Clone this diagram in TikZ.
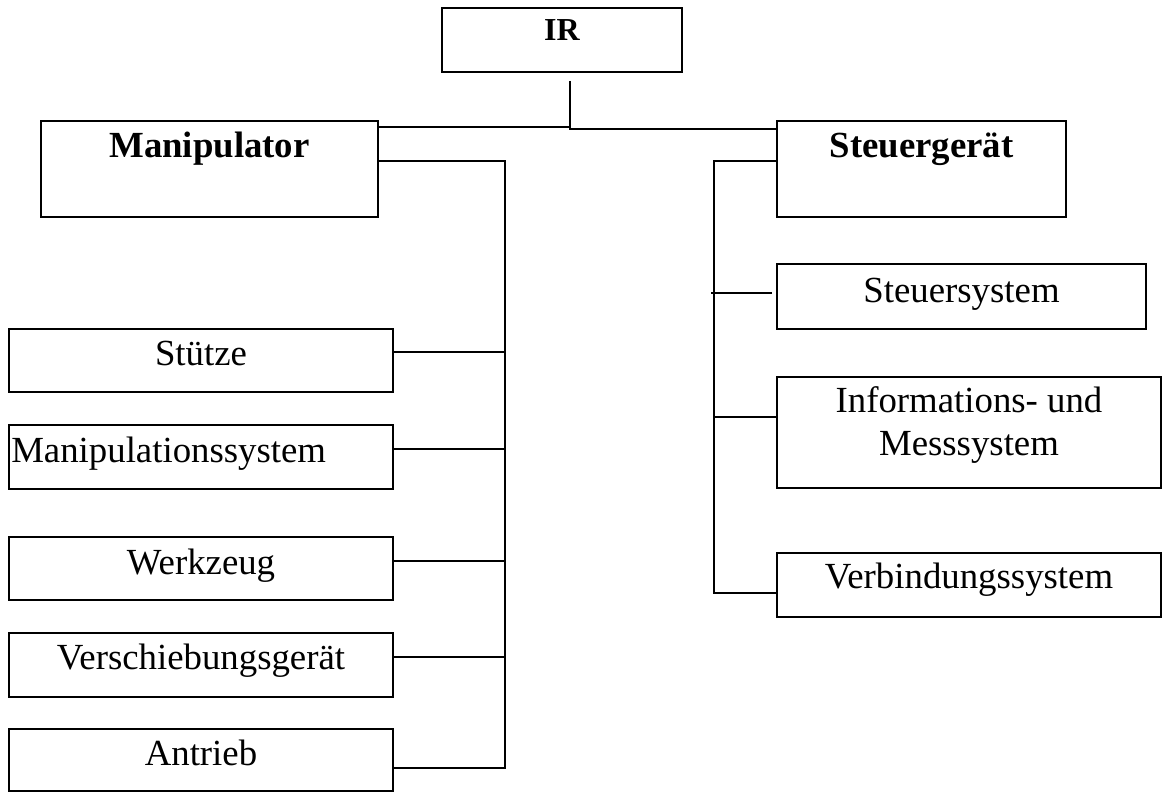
\documentclass[tikz,border=0pt]{standalone}
\usepackage{fontspec}
\setmainfont{Liberation Serif}
\usetikzlibrary{fit,calc}
\begin{document}
\begin{tikzpicture}[x=0.75pt,y=-0.75pt,
  box/.style={draw, line width=1.5pt, rectangle, inner sep=0pt, outer sep=0pt},
  lbl/.style={inner sep=0pt, anchor=base, font=\fontsize{27.6}{32.25}\selectfont},
  blbl/.style={inner sep=0pt, anchor=base, font=\fontsize{27.6}{33}\selectfont\bfseries},
  conn/.style={line width=1.5pt}]
\useasboundingbox (0,0) rectangle (1164,792);
% boxes
\node[box, fit={(442,8) (682,72)}] (ir) {};
\node[box, fit={(41,121) (378,217)}] (manip) {};
\node[box, fit={(777,121) (1066,217)}] (steu) {};
\node[box, fit={(777,264) (1146,329)}] (ssys) {};
\node[box, fit={(777,377) (1161,488)}] (info) {};
\node[box, fit={(777,553) (1161,617)}] (verb) {};
\node[box, fit={(9,329) (393,392)}] (stuetze) {};
\node[box, fit={(9,425) (393,489)}] (msys) {};
\node[box, fit={(9,537) (393,600)}] (werk) {};
\node[box, fit={(9,633) (393,697)}] (versch) {};
\node[box, fit={(9,729) (393,791)}] (antr) {};
% texts
\node[inner sep=0pt, anchor=base, font=\fontsize{24}{28}\selectfont\bfseries] (tir) at (562,41) {IR};
\node[blbl] (tman) at (209.5,157) {Manipulator};
\node[blbl] (tsteu) at (921.5,157) {Steuergerät};
\node[lbl] (tss) at (961.5,302) {Steuersystem};
\node[lbl, align=center] (tinfo) at (969,455) {Informations- und\\Messsystem};
\node[lbl] (tverb) at (969,588) {Verbindungssystem};
\node[lbl] (tst) at (201,365) {Stütze};
\node[lbl, anchor=base west] (tms) at (11,462) {Manipulationssystem};
\node[lbl] (twz) at (201,574) {Werkzeug};
\node[lbl] (tvs) at (201,669) {Verschiebungsgerät};
\node[lbl] (tan) at (201,765) {Antrieb};
% connectors
\coordinate (irtap) at (570,81);
\coordinate (mbus) at (505,161);
\coordinate (sbus) at (713.5,161);
\draw[conn] (irtap) |- ($(manip.north east)+(0,6)$);
\draw[conn] ($(irtap)+(0,46)$) |- ($(steu.north west)+(0,8)$);
\draw[conn] (manip.east |- mbus) -| ($(mbus |- antr.east)+(0,8)$) -- ($(antr.east)+(0,8)$);
\foreach \n/\d in {stuetze/-8.5, msys/-8, werk/-7.5, versch/-8}
  \draw[conn] ($(\n.east)+(0,\d)$) -- ($(mbus |- \n.east)+(0,\d)$);
\draw[conn] (steu.west |- sbus) -| ($(sbus |- verb.west)+(0,8)$) -- ($(verb.west)+(0,8)$);
\draw[conn] ($(info.west)+(0,-15.5)$) -- ($(sbus |- info.west)+(0,-15.5)$);
\draw[conn] ($(ssys.west)+(-5,-3.5)$) -- ($(sbus |- ssys.west)+(-2.5,-3.5)$);
\end{tikzpicture}
\end{document}
